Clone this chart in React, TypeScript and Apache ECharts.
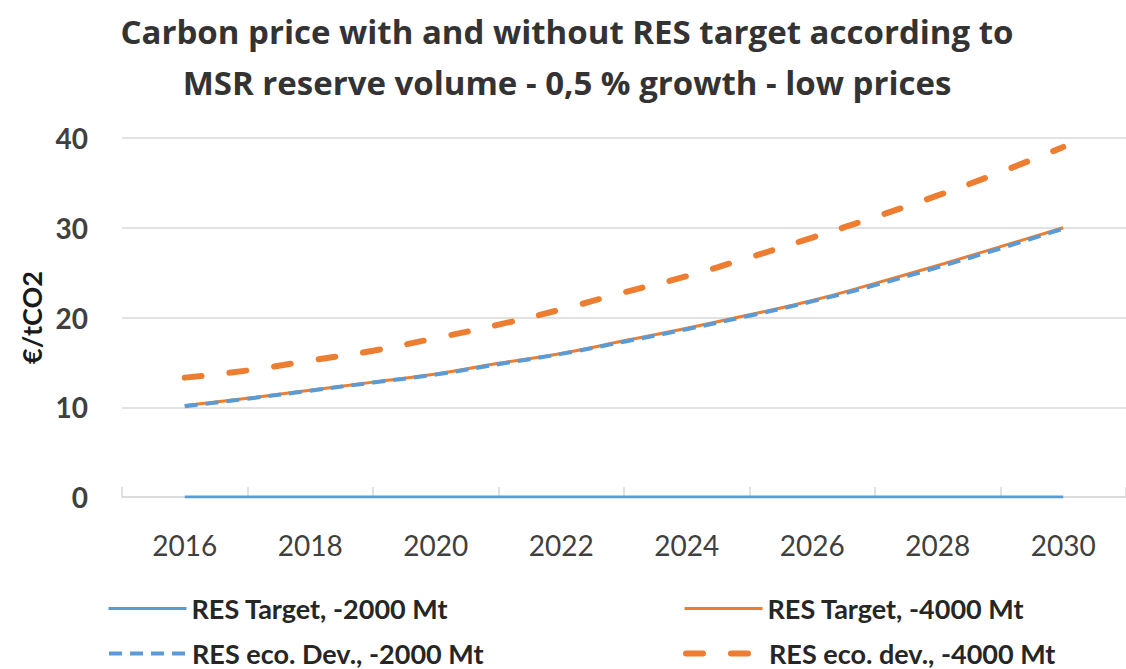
import React, { useEffect, useRef } from "react";
import * as echarts from "echarts";

// Category axis: padding years 2015 and 2031 give the empty space at both ends
const years = ["2015", "2016", "2017", "2018", "2019", "2020", "2021", "2022", "2023", "2024", "2025", "2026", "2027", "2028", "2029", "2030", "2031"];

const resTarget2000 = [null, 0, 0, 0, 0, 0, 0, 0, 0, 0, 0, 0, 0, 0, 0, 0, null];
const resTarget4000 = [null, 10.2, 11.0, 11.9, 12.8, 13.7, 14.9, 16.0, 17.4, 18.8, 20.3, 21.9, 23.8, 25.8, 27.9, 30.0, null];
const resEcoDev2000 = [null, 10.1, 10.95, 11.85, 12.75, 13.65, 14.8, 15.95, 17.3, 18.7, 20.2, 21.8, 23.6, 25.6, 27.7, 29.9, null];
const resEcoDev4000 = [null, 13.3, 14.1, 15.2, 16.3, 17.7, 19.2, 20.9, 22.8, 24.6, 26.7, 28.9, 31.2, 33.6, 36.2, 39.0, null];

const seriesNames = ["RES Target, -2000 Mt", "RES Target, -4000 Mt", "RES eco. Dev., -2000 Mt", "RES eco. dev., -4000 Mt"];

const BLUE = "#5B9BD5";
const ORANGE = "#ED7D31";
const TEXT = "#404040";
const FONT = "Lato, 'Open Sans', sans-serif";

const solidBlue = { color: BLUE, width: 3 };
const solidOrange = { color: ORANGE, width: 3 };
const dashBlue = { color: BLUE, width: 4, type: [13, 8] };
const dashOrange = { color: ORANGE, width: 6, type: [17, 28], cap: "round" };

export default function App() {
  const ref = useRef<HTMLDivElement>(null);
  useEffect(() => {
    if (!ref.current) return;
    const chart = echarts.init(ref.current, null, { renderer: "svg" });
    const legendText = { color: "#262626", fontSize: 27, fontWeight: "bold", fontFamily: FONT };
    const mkLegend = (name: string, left: number, top: number, ls: any) => ({
      data: [name],
      left,
      top,
      itemWidth: 78,
      itemHeight: 14,
      textStyle: legendText,
      selectedMode: false,
      lineStyle: ls,
      itemStyle: { opacity: 0, borderWidth: 0 },
    });
    chart.setOption({
      animation: false,
      backgroundColor: "#ffffff",
      title: {
        text: "Carbon price with and without RES target according to\nMSR reserve volume - 0,5 % growth - low prices",
        left: 562,
        top: 1,
        textAlign: "center",
        textStyle: { fontFamily: "'Open Sans', Lato, sans-serif", fontWeight: "bold", fontSize: 33, color: "#333333", lineHeight: 51 },
      },
      legend: [
        mkLegend(seriesNames[0], 102, 590, solidBlue),
        mkLegend(seriesNames[1], 678, 590, solidOrange),
        mkLegend(seriesNames[2], 102, 635, dashBlue),
        mkLegend(seriesNames[3], 678, 635, dashOrange),
      ],
      grid: { left: 122, top: 138, width: 1014, height: 359, containLabel: false },
      xAxis: {
        type: "category",
        data: years,
        boundaryGap: false,
        axisLine: { show: true, lineStyle: { color: "#d9d9d9", width: 1.5 } },
        axisTick: {
          show: true,
          inside: true,
          length: 10,
          interval: (index: number) => index % 2 === 0,
          lineStyle: { color: "#d9d9d9", width: 1.5 },
        },
        axisLabel: {
          interval: (index: number) => index % 2 === 1,
          margin: 34,
          color: TEXT,
          fontSize: 28,
          fontFamily: FONT,
        },
        splitLine: { show: false },
      },
      yAxis: {
        type: "value",
        min: 0,
        max: 40,
        interval: 10,
        name: "€/tCO2",
        nameLocation: "middle",
        nameGap: 76,
        nameRotate: 90,
        nameTextStyle: { color: "#1a1a1a", fontSize: 27, fontWeight: "bold", fontFamily: FONT },
        axisLine: { show: false },
        axisTick: { show: false },
        axisLabel: { margin: 34, color: TEXT, fontSize: 28, fontWeight: "bold", fontFamily: FONT },
        splitLine: { show: true, lineStyle: { color: "#d9d9d9", width: 1.5 } },
      },
      series: [
        { name: seriesNames[0], type: "line", data: resTarget2000, symbol: "none", smooth: true, lineStyle: solidBlue, itemStyle: { color: BLUE } },
        { name: seriesNames[1], type: "line", data: resTarget4000, symbol: "none", smooth: true, lineStyle: solidOrange, itemStyle: { color: ORANGE } },
        { name: seriesNames[2], type: "line", data: resEcoDev2000, symbol: "none", smooth: true, lineStyle: dashBlue, itemStyle: { color: BLUE } },
        { name: seriesNames[3], type: "line", data: resEcoDev4000, symbol: "none", smooth: true, lineStyle: dashOrange, itemStyle: { color: ORANGE } },
      ],
    });
    return () => chart.dispose();
  }, []);
  return (
    <div
      ref={ref}
      style={{ position: "fixed", left: 0, top: 0, width: 1126, height: 669, background: "#fff" }}
    />
  );
}
